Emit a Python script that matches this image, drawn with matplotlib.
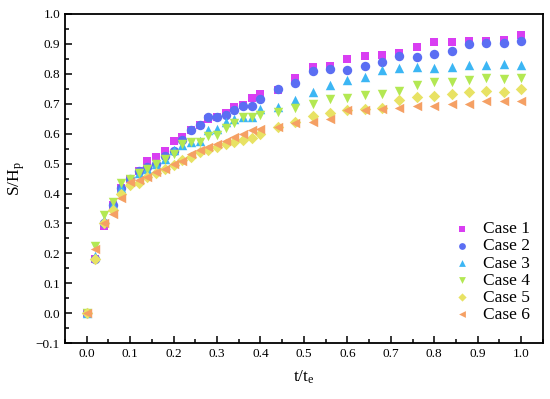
import matplotlib
matplotlib.use("Agg")
import matplotlib.pyplot as plt
from matplotlib.ticker import MultipleLocator

plt.rcParams['font.family'] = ['Liberation Serif', 'DejaVu Serif']
plt.rcParams['mathtext.fontset'] = 'custom'
plt.rcParams['mathtext.rm'] = 'Liberation Serif'
plt.rcParams['mathtext.it'] = 'Liberation Serif'

# time ratio t/te: step 0.02 up to 0.4, then 0.04
t = [0.00, 0.02, 0.04, 0.06, 0.08, 0.10, 0.12, 0.14, 0.16, 0.18, 0.20,
     0.22, 0.24, 0.26, 0.28, 0.30, 0.32, 0.34, 0.36, 0.38, 0.40,
     0.44, 0.48, 0.52, 0.56, 0.60, 0.64, 0.68, 0.72, 0.76, 0.80,
     0.84, 0.88, 0.92, 0.96, 1.00]

case1 = [0.00, 0.18, 0.29, 0.36, 0.417, 0.45, 0.475, 0.509, 0.522, 0.542, 0.574,
         0.589, 0.611, 0.628, 0.650, 0.655, 0.669, 0.689, 0.697, 0.720, 0.731,
         0.747, 0.787, 0.824, 0.826, 0.850, 0.858, 0.864, 0.870, 0.891, 0.907,
         0.907, 0.911, 0.911, 0.913, 0.930]
case2 = [0.00, 0.18, 0.30, 0.36, 0.417, 0.45, 0.475, 0.489, 0.500, 0.524, 0.541,
         0.578, 0.611, 0.628, 0.656, 0.656, 0.661, 0.678, 0.691, 0.694, 0.715,
         0.750, 0.769, 0.809, 0.815, 0.813, 0.827, 0.839, 0.859, 0.856, 0.866,
         0.876, 0.900, 0.902, 0.904, 0.909]
case3 = [0.00, 0.19, 0.31, 0.361, 0.42, 0.445, 0.47, 0.483, 0.500, 0.517, 0.544,
         0.561, 0.572, 0.575, 0.611, 0.617, 0.639, 0.650, 0.655, 0.655, 0.683,
         0.689, 0.714, 0.739, 0.761, 0.780, 0.791, 0.813, 0.819, 0.824, 0.819,
         0.823, 0.828, 0.831, 0.833, 0.830]
case4 = [0.00, 0.224, 0.328, 0.372, 0.435, 0.45, 0.467, 0.483, 0.498, 0.517, 0.533,
         0.567, 0.572, 0.572, 0.591, 0.594, 0.619, 0.636, 0.655, 0.655, 0.661,
         0.672, 0.687, 0.700, 0.715, 0.718, 0.728, 0.733, 0.744, 0.761, 0.774,
         0.772, 0.780, 0.785, 0.782, 0.785]
case5 = [0.00, 0.18, 0.30, 0.344, 0.40, 0.428, 0.435, 0.455, 0.469, 0.483, 0.494,
         0.511, 0.522, 0.539, 0.547, 0.555, 0.564, 0.572, 0.578, 0.587, 0.598,
         0.622, 0.640, 0.658, 0.669, 0.678, 0.683, 0.687, 0.713, 0.722, 0.727,
         0.731, 0.740, 0.741, 0.740, 0.748]
case6 = [0.00, 0.213, 0.30, 0.333, 0.385, 0.437, 0.444, 0.455, 0.472, 0.483, 0.500,
         0.509, 0.533, 0.544, 0.555, 0.567, 0.575, 0.589, 0.600, 0.613, 0.617,
         0.622, 0.636, 0.639, 0.648, 0.678, 0.678, 0.683, 0.687, 0.691, 0.693,
         0.698, 0.698, 0.708, 0.708, 0.709]

series = [case1, case2, case3, case4, case5, case6]
labels = ['Case 1', 'Case 2', 'Case 3', 'Case 4', 'Case 5', 'Case 6']
colors = ['#D93EF2', '#5B6EF3', '#3CB6F4', '#B3E853', '#E8E264', '#F5A064']
markers = ['s', 'o', '^', 'v', 'D', '<']
sizes = [40, 46, 46, 46, 34, 46]

fig = plt.figure(figsize=(5.5, 3.99), dpi=100)
ax = fig.add_axes([0.118, 0.14, 0.869, 0.825])

for y, lab, c, m, s in zip(series, labels, colors, markers, sizes):
    ax.scatter(t, y, marker=m, s=s, color=c, label=lab, linewidths=0, zorder=3)

ax.set_xlim(-0.05, 1.05)
ax.set_ylim(-0.1, 1.0)
ax.xaxis.set_major_locator(MultipleLocator(0.1))
ax.xaxis.set_minor_locator(MultipleLocator(0.05))
ax.yaxis.set_major_locator(MultipleLocator(0.1))
ax.yaxis.set_minor_locator(MultipleLocator(0.05))
ax.tick_params(which='both', direction='in', top=False, right=False, labelsize=9.5)
ax.tick_params(which='major', length=5, width=1.1)
ax.tick_params(which='minor', length=3, width=1.1)
ax.set_xticklabels([f'{v:.1f}' for v in ax.get_xticks()])
for sp in ax.spines.values():
    sp.set_linewidth(1.3)

ax.set_xlabel('t/t$_\\mathrm{e}$', fontsize=12.5, labelpad=6)
ax.set_ylabel('S/H$_\\mathrm{p}$', fontsize=12.5, labelpad=6)

ax.legend(loc='lower right', frameon=False, fontsize=12.5, handlelength=1.0,
          handletextpad=0.7, labelspacing=0.05, markerscale=0.72,
          bbox_to_anchor=(1.005, 0.015))

fig.savefig('out.png', dpi=100)
